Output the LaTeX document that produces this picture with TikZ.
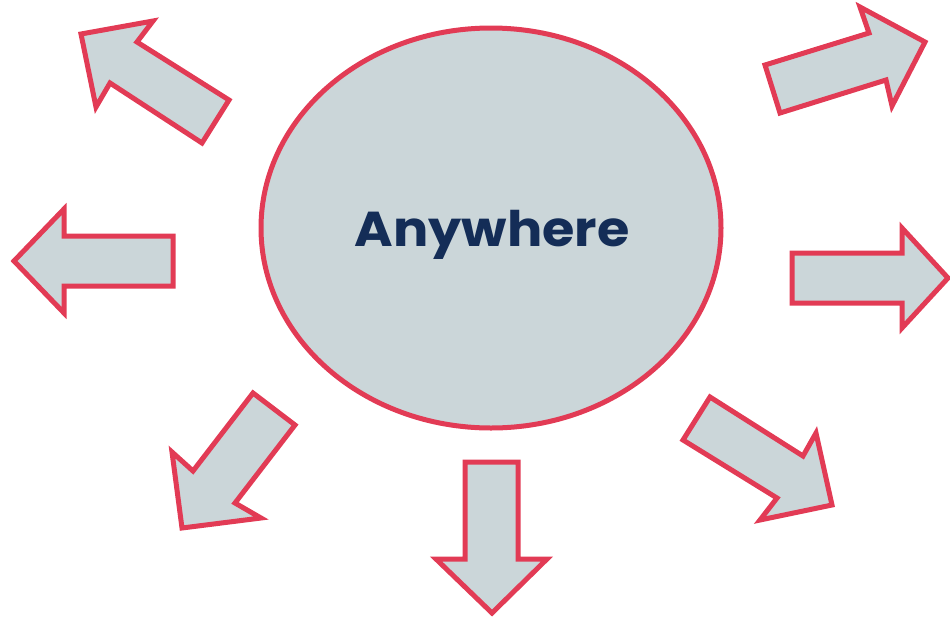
\documentclass[tikz,border=0pt]{standalone}
\usepackage{fontspec}
\newfontfamily\popfont{Poppins}
\usetikzlibrary{shapes.geometric}
\definecolor{fillgray}{HTML}{CBD6D9}
\definecolor{edgered}{HTML}{E23B55}
\definecolor{navy}{HTML}{142D57}
\begin{document}
\begin{tikzpicture}[x=1pt,y=-1pt,
  blockarrow/.style={draw=edgered,fill=fillgray,line width=5pt,line join=miter},
  hub/.style={ellipse,draw=edgered,fill=fillgray,line width=5pt,minimum width=460pt,minimum height=400pt,inner sep=0pt}]
\useasboundingbox (0,0) rectangle (950,619);
% centre ellipse
\node[hub] (hub) at (491,228) {};
\node[text=navy,font=\popfont\bfseries\fontsize{49}{52}\selectfont] (label) at (492,235) {\scalebox{1.07}[1]{Anywhere}};
% upper-left arrow
\draw[blockarrow] (81,34) -- (153,21) -- (137,42) -- (229,100) -- (202,143) -- (110,83) -- (96,107) -- cycle;
% left arrow
\draw[blockarrow] (14,261) -- (64,209) -- (64,236) -- (173,236) -- (173,286) -- (64,286) -- (64,313) -- cycle;
% upper-right arrow
\draw[blockarrow] (765,65) -- (869,33) -- (860,7) -- (925,42) -- (892,106) -- (886,80) -- (780,113) -- cycle;
% right arrow
\draw[blockarrow] (792,253) -- (902,253) -- (902,228) -- (948,278) -- (902,328) -- (902,303) -- (792,303) -- cycle;
% lower-left arrow
\draw[blockarrow] (253,393) -- (295,425) -- (235,503) -- (261,518) -- (182,528) -- (172,452) -- (193,471) -- cycle;
% down arrow
\draw[blockarrow] (465,462) -- (518,462) -- (518,559) -- (547,559) -- (492,613) -- (436,559) -- (465,559) -- cycle;
% lower-right arrow
\draw[blockarrow] (710,397) -- (803,456) -- (816,433) -- (832,505) -- (760,520) -- (777,498) -- (683,440) -- cycle;
\end{tikzpicture}
\end{document}
